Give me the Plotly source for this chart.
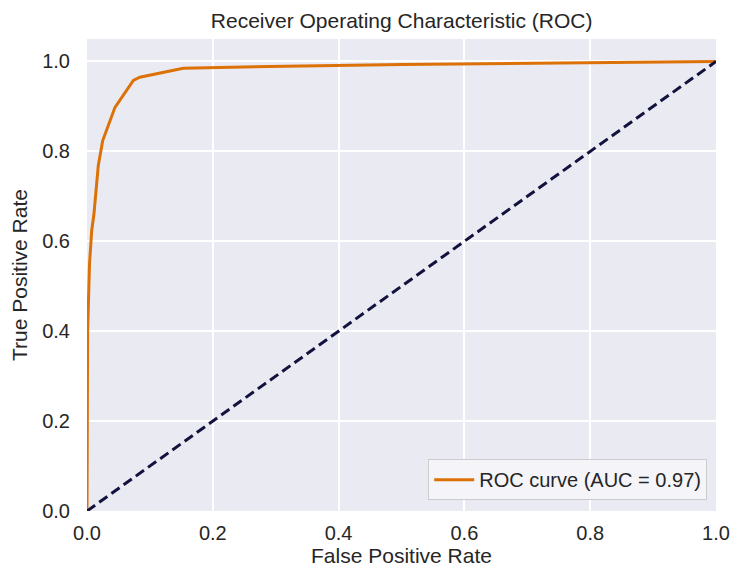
import plotly.graph_objects as go

fpr = [0.0, 0.0, 0.001, 0.004, 0.0075, 0.011, 0.018, 0.025, 0.0445, 0.0737, 0.084, 0.153, 0.29, 0.5, 0.8, 1.0]
tpr = [0.0, 0.25, 0.40, 0.55, 0.624, 0.66, 0.769, 0.824, 0.898, 0.958, 0.965, 0.985, 0.989, 0.993, 0.997, 1.0]
diag_x = [0.0, 1.0]
diag_y = [0.0, 1.0]
tick_vals = [0, 0.2, 0.4, 0.6, 0.8, 1.0]
tick_text = ["0.0", "0.2", "0.4", "0.6", "0.8", "1.0"]
auc_label = "ROC curve (AUC = 0.97)"

fig = go.Figure()
fig.add_trace(go.Scatter(x=fpr, y=tpr, mode="lines", name=auc_label,
                         line=dict(color="#dc7207", width=3)))
fig.add_trace(go.Scatter(x=diag_x, y=diag_y, mode="lines", showlegend=False,
                         line=dict(color="#12123e", width=3, dash="10px,5px")))

font = "Liberation Sans, Arial, sans-serif"
fig.update_layout(
    width=733, height=569,
    margin=dict(l=87, r=17, t=39, b=58),
    paper_bgcolor="white", plot_bgcolor="#eaeaf2",
    font=dict(family=font, size=20, color="#262626"),
    title=dict(text="Receiver Operating Characteristic (ROC)", x=0.5479, xanchor="center",
               y=1 - 21/569, yanchor="middle", font=dict(size=21, color="#262626")),
    xaxis=dict(range=[0, 1.0], tickvals=tick_vals, ticktext=tick_text,
               gridcolor="white", gridwidth=1.5, zeroline=False, showline=False,
               ticks="", ticklabelstandoff=8, automargin=False,
               title=dict(text="False Positive Rate", font=dict(size=21), standoff=4)),
    yaxis=dict(range=[0, 1.05], tickvals=tick_vals, ticktext=tick_text,
               gridcolor="white", gridwidth=1.5, zeroline=False, showline=False,
               ticks="", ticklabelstandoff=16, automargin=False,
               title=dict(text="True Positive Rate", font=dict(size=21), standoff=8)),
    legend=dict(x=0.986, y=0.023, xanchor="right", yanchor="bottom",
                bgcolor="rgba(245,245,249,0.9)", bordercolor="#cccccc", borderwidth=1,
                font=dict(size=20), itemwidth=40),
    showlegend=True,
)
fig.write_html("out.html", config={"displayModeBar": False},
               post_script="document.body.style.margin='0';")
